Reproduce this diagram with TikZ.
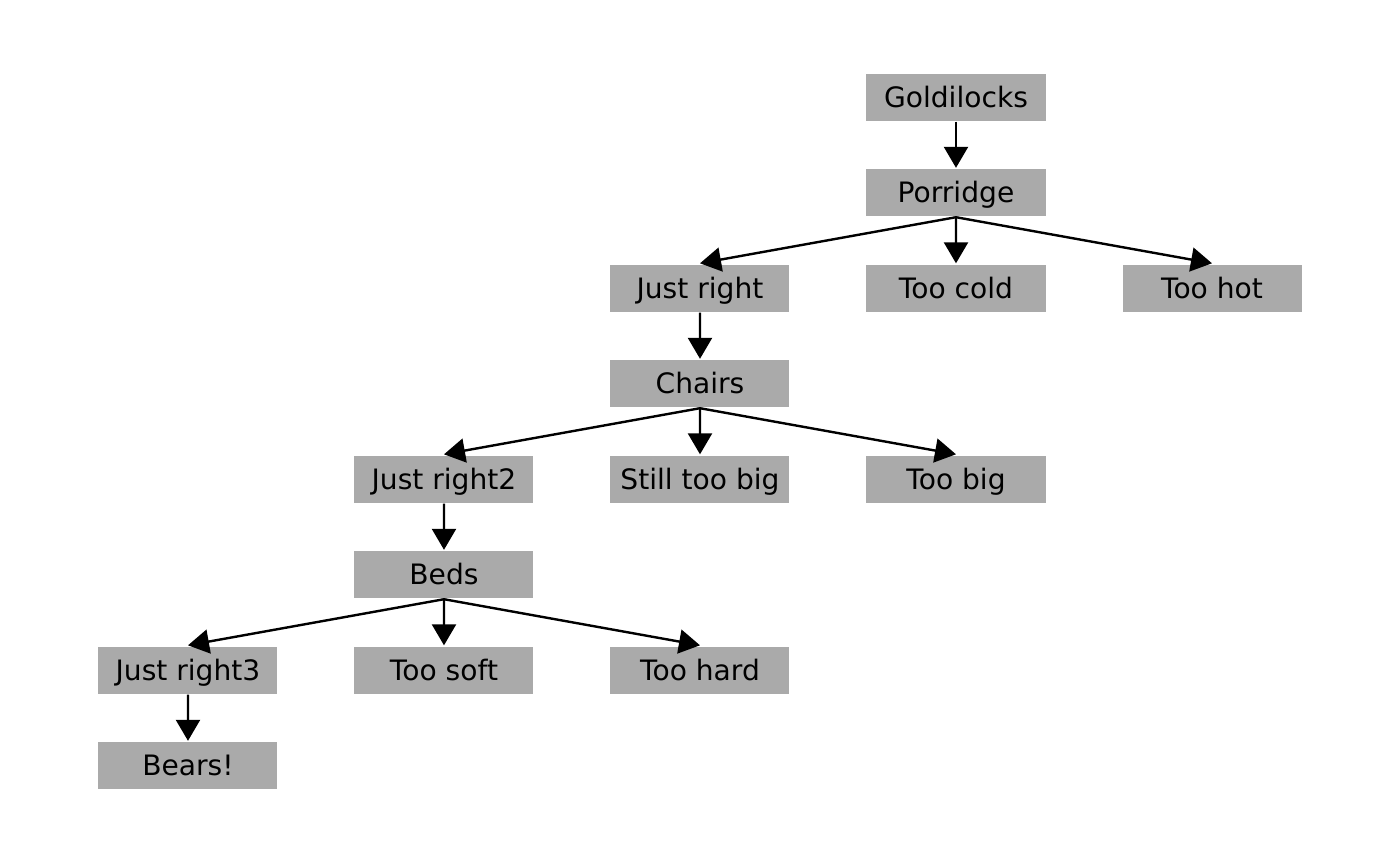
\documentclass[tikz,border=0pt]{standalone}
\usepackage{fontspec}
\setmainfont{DejaVu Sans}
\usepackage{xcolor}
\usepackage{tikz}
\usetikzlibrary{arrows.meta}
\definecolor{boxgray}{HTML}{AAAAAA}
\tikzset{
    treenode/.style = {align=center, inner sep=0pt, text centered},
    gray_node/.style = {treenode, rectangle, fill=boxgray, text=black, minimum width=1.79cm, minimum height=0.47cm, text height=0.25cm, text depth=0.05cm, font=\fontsize{8}{9}\selectfont}
}
\begin{document}
\begin{tikzpicture}
            [->,>={Triangle[length=0.21cm, width=0.24cm]}, line width=0.024cm,
            level distance = 0.955cm,
            sibling distance = 2.56cm,
            edge from parent path={(\tikzparentnode.south) -- (\tikzchildnode.north)}]

            \useasboundingbox (-9.56, 0.97) rectangle (4.44, -7.68);

            \node (goldilocks)
            [gray_node] {Goldilocks}
            child {
                node (porridge) [gray_node] {Porridge}
                child {
                    node (justright) [gray_node] {Just right}
                    child {
                        node (chairs) [gray_node] {Chairs}
                        child {
                            node (justright2) [gray_node] {Just right2}
                            child {
                                node (beds) [gray_node] {Beds}
                                child {
                                    node (justright3) [gray_node] {Just right3}
                                    child { node (bears) [gray_node] {Bears!} }
                                }
                                child { node (toosoft) [gray_node] {Too soft} }
                                child { node (toohard) [gray_node] {Too hard} }
                            }
                        }
                        child { node (stilltoobig) [gray_node] {Still too big} }
                        child { node (toobig) [gray_node] {Too big} }
                    }
                }
                child { node (toocold) [gray_node] {Too cold} }
                child { node (toohot) [gray_node] {Too hot} }
            }
            ;
\end{tikzpicture}
\end{document}
